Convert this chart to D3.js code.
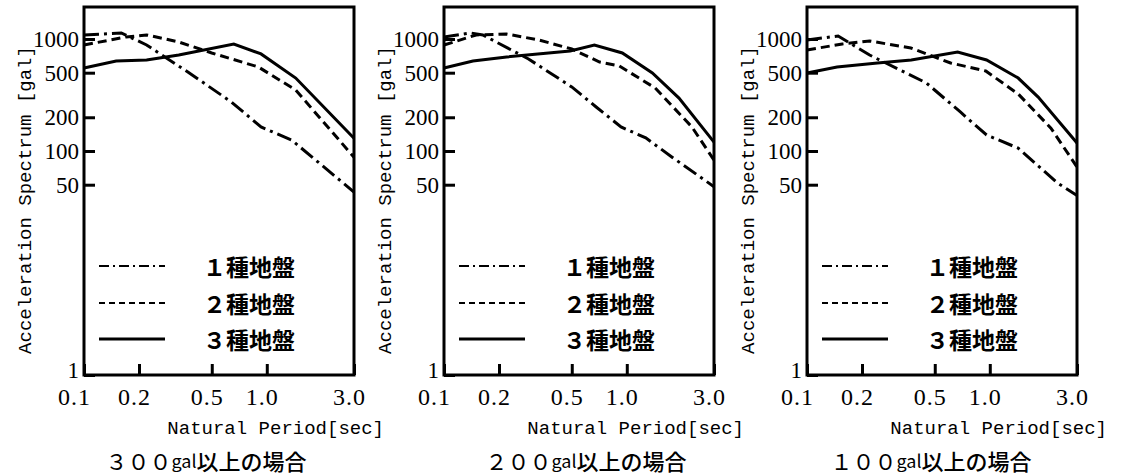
<!DOCTYPE html>
<html>
<head>
<meta charset="utf-8">
<script src="https://cdn.jsdelivr.net/npm/d3@7"></script>
<style>
  body { margin: 0; background: #fff; }
  svg { display: block; }
</style>
</head>
<body>
<div id="chart"></div>
<script>
// values: [period (sec), acceleration (gal)]
var type1_300 = [[0.1, 1086], [0.16, 1132], [0.22, 884], [0.37, 507], [0.64, 274], [0.93, 164], [1.37, 125], [3.0, 43]];
var type2_300 = [[0.1, 884], [0.17, 1042], [0.22, 1087], [0.33, 940], [0.5, 750], [0.9, 562], [1.44, 350], [3.0, 88]];
var type3_300 = [[0.1, 551], [0.15, 636], [0.22, 650], [0.33, 719], [0.66, 902], [0.93, 735], [1.44, 448], [3.0, 130]];

var type1_200 = [[0.1, 1042], [0.14, 1132], [0.163, 1086], [0.29, 663], [0.5, 373], [0.68, 247], [0.93, 164], [1.27, 131], [1.77, 88], [3.0, 48]];
var type2_200 = [[0.1, 884], [0.15, 1086], [0.22, 1108], [0.33, 980], [0.5, 814], [0.71, 623], [0.91, 574], [1.43, 365], [2.27, 164], [3.0, 83]];
var type3_200 = [[0.1, 551], [0.144, 636], [0.22, 691], [0.49, 781], [0.665, 884], [0.945, 750], [1.38, 497], [1.93, 297], [3.0, 120]];

var type1_100 = [[0.1, 980], [0.148, 1064], [0.22, 719], [0.45, 405], [0.69, 223], [0.96, 139], [1.43, 106], [2.34, 52], [3.0, 40]];
var type2_100 = [[0.1, 798], [0.156, 902], [0.22, 960], [0.37, 831], [0.61, 611], [0.95, 518], [1.43, 323], [2.16, 160], [3.0, 72]];
var type3_100 = [[0.1, 497], [0.146, 562], [0.243, 611], [0.372, 649], [0.667, 765], [0.96, 649], [1.43, 448], [1.84, 303], [3.0, 118]];

var xTicks = [0.1, 0.2, 0.5, 1.0, 3.0];
var yTicks = [1, 50, 100, 200, 500, 1000];
var legendLabels = ["１種地盤", "２種地盤", "３種地盤"];
var captionLevels = ["３００", "２００", "１００"];
var captionUnit = "gal";
var captionTail = "以上の場合";

// layout
var W = 1122, H = 476;
var plotTop = 7, plotBottom = 375, plotW = 270;
var panelLeft = [84, 444, 807];
var captionDx = [122, 142, 124];
var dashes = ["15,5,3,5", "9,5", null];
var legendDashes = ["10,4,2,4", "6,4", null];

var panels = [
  { series: [type1_300, type2_300, type3_300], level: captionLevels[0] },
  { series: [type1_200, type2_200, type3_200], level: captionLevels[1] },
  { series: [type1_100, type2_100, type3_100], level: captionLevels[2] }
];

var svg = d3.select("#chart")
  .append("svg")
  .attr("width", W)
  .attr("height", H);

svg.append("rect").attr("width", W).attr("height", H).attr("fill", "#fff");

var y = d3.scaleLog()
  .domain([1, 1930])
  .range([plotBottom, plotTop]);

panels.forEach(function(p, i) {
  var left = panelLeft[i];
  var g = svg.append("g").attr("transform", "translate(" + left + ",0)");

  var x = d3.scaleLog()
    .domain([0.1, 3.0])
    .range([0, plotW]);

  // y axis, ticks pointing inward
  var ya = g.append("g")
    .call(d3.axisLeft(y)
      .tickValues(yTicks)
      .tickFormat(d3.format("d"))
      .tickSize(-11)
      .tickPadding(5));
  ya.select(".domain").remove();
  ya.selectAll("line").attr("stroke-width", 3);
  ya.selectAll("text")
    .attr("dy", function(d) { return d === 1 ? "0.1em" : "0.32em"; })
    .style("font-family", "'Liberation Serif', serif")
    .style("font-size", "23px")
    .attr("fill", "#000");

  // x axis
  var xa = g.append("g")
    .attr("transform", "translate(0," + plotBottom + ")")
    .call(d3.axisBottom(x)
      .tickValues(xTicks)
      .tickFormat(d3.format(".1f"))
      .tickSize(-11)
      .tickPadding(13));
  xa.select(".domain").remove();
  xa.selectAll("line").attr("stroke-width", 3);
  xa.selectAll("text")
    .attr("dx", function(d) { return d === 0.1 ? -10 : -5; })
    .style("font-family", "'Liberation Serif', serif")
    .style("font-size", "24px")
    .style("letter-spacing", "1px")
    .attr("fill", "#000");

  // frame
  g.append("rect")
    .attr("x", 0)
    .attr("y", plotTop)
    .attr("width", plotW)
    .attr("height", plotBottom - plotTop)
    .attr("fill", "none")
    .attr("stroke", "#000")
    .attr("stroke-width", 3);

  var line = d3.line()
    .x(function(d) { return x(d[0]); })
    .y(function(d) { return y(d[1]); });

  p.series.forEach(function(s, k) {
    g.append("path")
      .datum(s)
      .attr("d", line)
      .attr("fill", "none")
      .attr("stroke", "#000")
      .attr("stroke-width", 3)
      .attr("stroke-dasharray", dashes[k]);
  });

  // legend
  var rows = [266, 303, 339];
  legendLabels.forEach(function(lab, k) {
    g.append("line")
      .attr("x1", 15).attr("x2", 81)
      .attr("y1", rows[k]).attr("y2", rows[k])
      .attr("stroke", "#000")
      .attr("stroke-width", k === 2 ? 3 : 2)
      .attr("stroke-dasharray", legendDashes[k]);
    g.append("text")
      .attr("x", 119)
      .attr("y", rows[k])
      .attr("dominant-baseline", "central")
      .style("font-family", "'Noto Sans CJK JP', sans-serif")
      .style("font-size", "23px")
      .style("font-weight", "bold")
      .text(lab);
  });

  // axis titles
  g.append("text")
    .attr("transform", "translate(-58,200) rotate(-90)")
    .attr("text-anchor", "middle")
    .attr("dominant-baseline", "central")
    .style("font-family", "'Liberation Mono', monospace")
    .style("font-size", "19px")
    .text("Acceleration Spectrum [gal]");

  g.append("text")
    .attr("x", 300)
    .attr("y", 429)
    .attr("text-anchor", "end")
    .attr("dominant-baseline", "central")
    .style("font-family", "'Liberation Mono', monospace")
    .style("font-size", "19px")
    .text("Natural Period[sec]");

  var cap = g.append("text")
    .attr("x", captionDx[i])
    .attr("y", 460)
    .attr("text-anchor", "middle")
    .attr("dominant-baseline", "central")
    .style("font-family", "'Noto Sans CJK JP', sans-serif")
    .style("font-size", "22px");
  cap.append("tspan").text(p.level);
  cap.append("tspan").style("font-size", "18px").text(captionUnit);
  cap.append("tspan").style("font-weight", "500").text(captionTail);
});
</script>
</body>
</html>
